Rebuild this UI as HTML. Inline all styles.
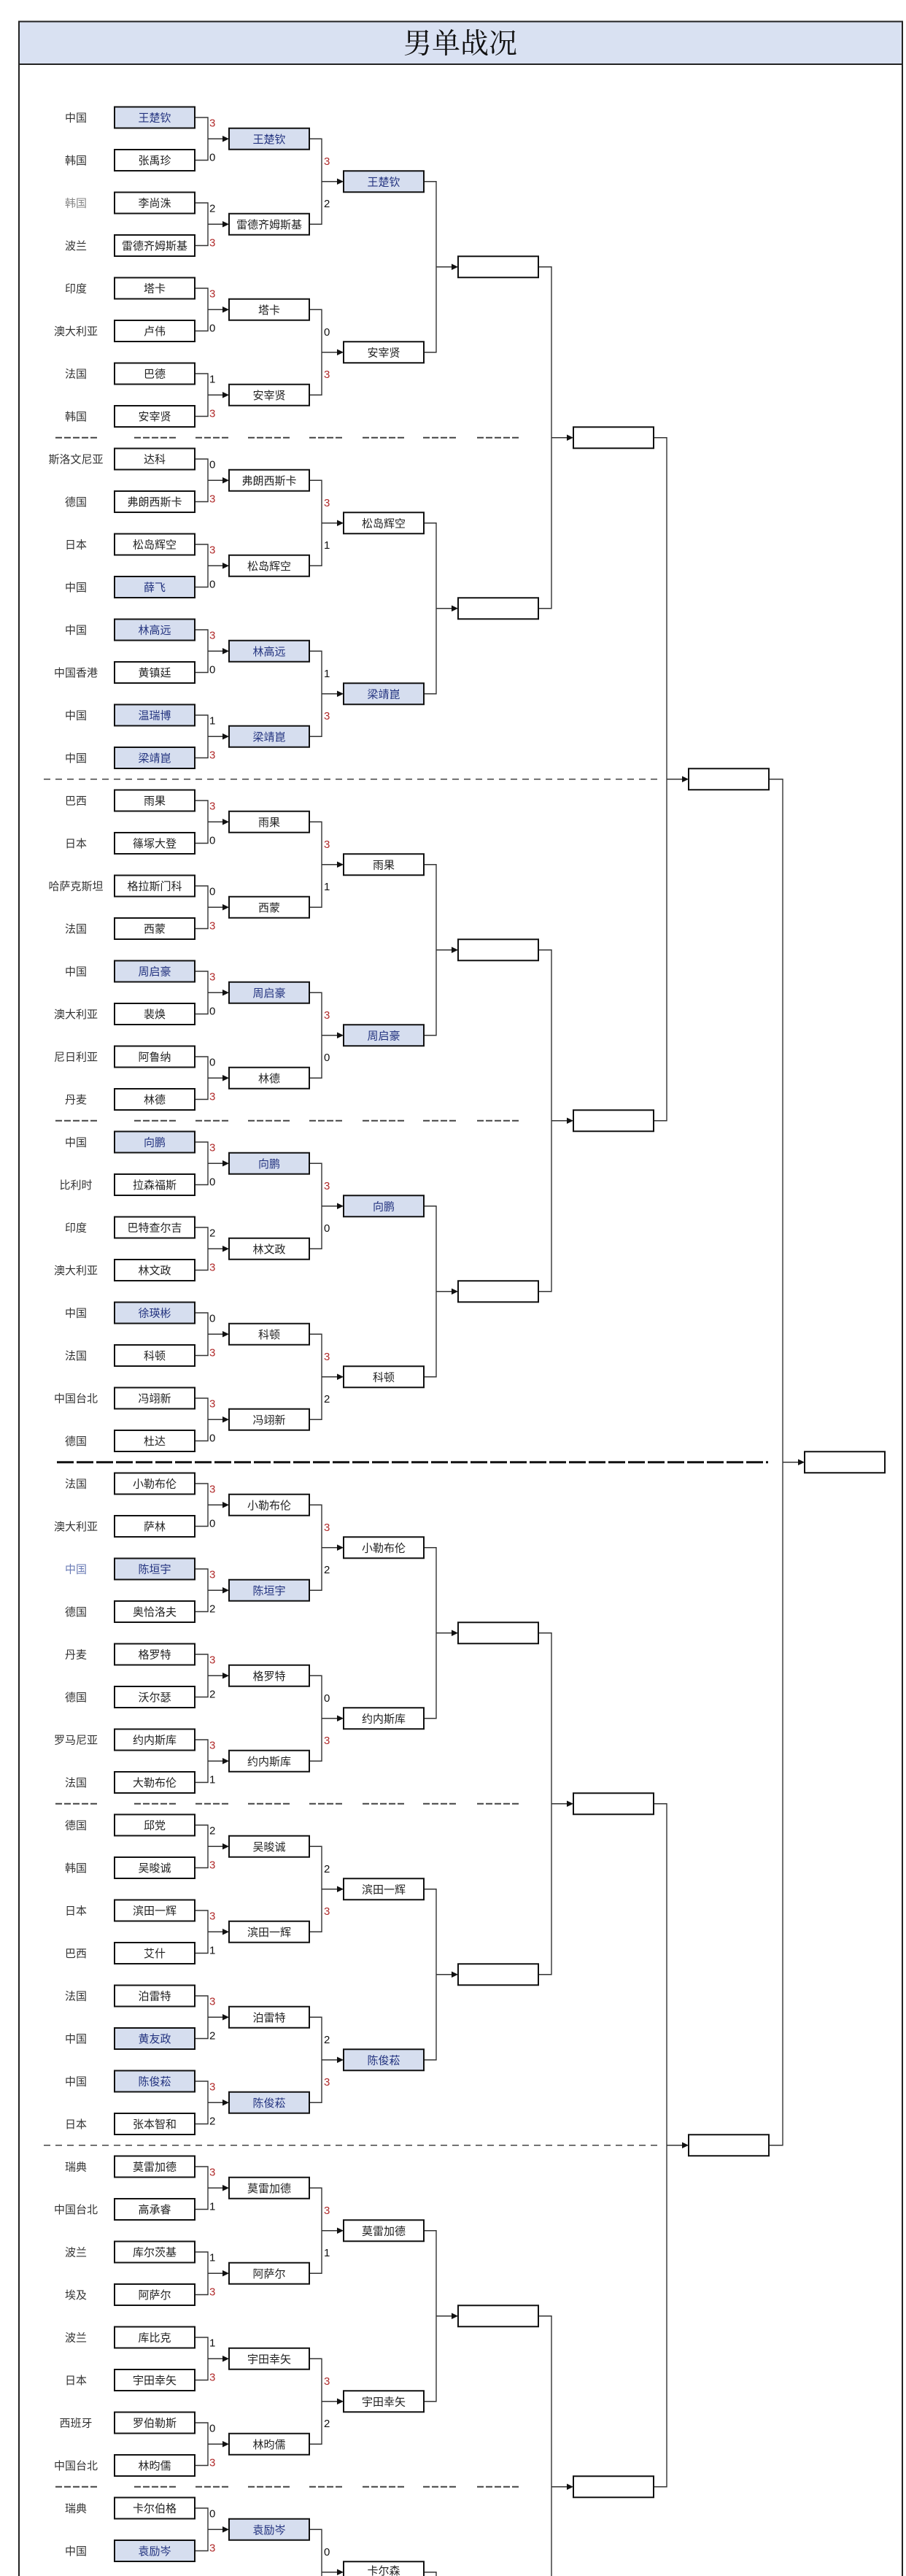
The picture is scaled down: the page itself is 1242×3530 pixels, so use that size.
<!DOCTYPE html>
<html><head><meta charset="utf-8"><style>
html,body{margin:0;padding:0;background:#fff;width:1242px;height:3530px;overflow:hidden;}
svg{display:block;}
.bx{fill:#fff;stroke:#111;stroke-width:2;}
.hb{fill:#d6deef;stroke:#111;stroke-width:2;}
.ln{fill:none;stroke:#333;stroke-width:1.4;}
.ah{fill:#111;}
text{font-family:"Liberation Sans","Noto Sans CJK SC",sans-serif;font-size:15px;}
.n{fill:#222;text-anchor:middle;}
.h{fill:#23337f;text-anchor:middle;}
.c{fill:#333;text-anchor:middle;}
.s{fill:#111;font-size:15px;}
.r{fill:#b02a2a;font-size:15px;}
.sd{stroke:#444;stroke-width:2;stroke-dasharray:9 3;}
.ld{stroke:#444;stroke-width:1.6;stroke-dasharray:9 7;}
.td{stroke:#111;stroke-width:3;stroke-dasharray:23 4;}
</style></head><body>
<svg width="1242" height="3530" viewBox="0 0 1242 3530" xmlns="http://www.w3.org/2000/svg">
<defs>
<rect id="w" width="110" height="29" class="bx"/>
<rect id="hh" width="110" height="29" class="hb"/>
<g id="b1"><path class="ln" d="M267 161H285V219.5H267M285 190.25H306"/><path class="ah" d="M305 186L314 190.25L305 194.5Z"/></g>
<g id="b2"><path class="ln" d="M424 190.25H441V307.25H424M441 248.75H463"/><path class="ah" d="M462 244.5L471 248.75L462 253Z"/></g>
<g id="b3"><path class="ln" d="M581 248.75H598V482.75H581M598 365.75H620"/><path class="ah" d="M619 361.5L628 365.75L619 370Z"/></g>
<g id="b4"><path class="ln" d="M738 365.75H756V833.75H738M756 599.75H778"/><path class="ah" d="M777 595.5L786 599.75L777 604Z"/></g>
<g id="b5"><path class="ln" d="M896 599.75H914V1535.75H896M914 1067.75H936"/><path class="ah" d="M935 1063.5L944 1067.75L935 1072Z"/></g>
</defs>
<rect x="26" y="29.5" width="1211" height="3540" fill="#fff" stroke="#222" stroke-width="2"/>
<rect x="26" y="29.5" width="1211" height="58.5" fill="#d9e1f2" stroke="#222" stroke-width="2"/>
<text x="631" y="73" style="font-family:'Noto Serif CJK SC','Liberation Serif',serif;font-size:39px;fill:#111;text-anchor:middle">男单战况</text>

<g class="sd">
<path d="M76 599.75H133M184 599.75H242M268 599.75H315M340 599.75H398M424 599.75H471M497 599.75H554M580 599.75H628M654 599.75H712"/>
<path d="M76 1535.75H133M184 1535.75H242M268 1535.75H315M340 1535.75H398M424 1535.75H471M497 1535.75H554M580 1535.75H628M654 1535.75H712"/>
<path d="M76 2471.75H133M184 2471.75H242M268 2471.75H315M340 2471.75H398M424 2471.75H471M497 2471.75H554M580 2471.75H628M654 2471.75H712"/>
<path d="M76 3407.75H133M184 3407.75H242M268 3407.75H315M340 3407.75H398M424 3407.75H471M497 3407.75H554M580 3407.75H628M654 3407.75H712"/>
</g>
<path class="ld" d="M60 1067.75H905"/>
<path class="ld" d="M60 2939.75H905"/>
<path class="td" d="M78 2003.75H1053"/>

<use href="#b1" y="0"/><use href="#b1" y="117"/><use href="#b1" y="234"/><use href="#b1" y="351"/><use href="#b1" y="468"/><use href="#b1" y="585"/><use href="#b1" y="702"/><use href="#b1" y="819"/><use href="#b1" y="936"/><use href="#b1" y="1053"/><use href="#b1" y="1170"/><use href="#b1" y="1287"/><use href="#b1" y="1404"/><use href="#b1" y="1521"/><use href="#b1" y="1638"/><use href="#b1" y="1755"/><use href="#b1" y="1872"/><use href="#b1" y="1989"/><use href="#b1" y="2106"/><use href="#b1" y="2223"/><use href="#b1" y="2340"/><use href="#b1" y="2457"/><use href="#b1" y="2574"/><use href="#b1" y="2691"/><use href="#b1" y="2808"/><use href="#b1" y="2925"/><use href="#b1" y="3042"/><use href="#b1" y="3159"/><use href="#b1" y="3276"/><use href="#b1" y="3393"/>
<use href="#b2" y="0"/><use href="#b2" y="234"/><use href="#b2" y="468"/><use href="#b2" y="702"/><use href="#b2" y="936"/><use href="#b2" y="1170"/><use href="#b2" y="1404"/><use href="#b2" y="1638"/><use href="#b2" y="1872"/><use href="#b2" y="2106"/><use href="#b2" y="2340"/><use href="#b2" y="2574"/><use href="#b2" y="2808"/><use href="#b2" y="3042"/><use href="#b2" y="3276"/>
<use href="#b3" y="0"/><use href="#b3" y="468"/><use href="#b3" y="936"/><use href="#b3" y="1404"/><use href="#b3" y="1872"/><use href="#b3" y="2340"/><use href="#b3" y="2808"/><use href="#b3" y="3276"/>
<use href="#b4" y="0"/><use href="#b4" y="936"/><use href="#b4" y="1872"/><use href="#b4" y="2808"/>
<use href="#b5" y="0"/><use href="#b5" y="1872"/>
<path class="ln" d="M1054 1067.75H1073V2939.75H1054M1073 2003.75H1095"/><path class="ah" d="M1094 1999.5L1103 2003.75L1094 2008Z"/>

<use href="#w" x="628" y="351.25"/><use href="#w" x="628" y="819.25"/><use href="#w" x="628" y="1287.25"/><use href="#w" x="628" y="1755.25"/><use href="#w" x="628" y="2223.25"/><use href="#w" x="628" y="2691.25"/><use href="#w" x="628" y="3159.25"/>
<use href="#w" x="786" y="585.25"/><use href="#w" x="786" y="1521.25"/><use href="#w" x="786" y="2457.25"/><use href="#w" x="786" y="3393.25"/>
<use href="#w" x="944" y="1053.25"/><use href="#w" x="944" y="2925.25"/>
<use href="#w" x="1103" y="1989.25"/>

<use href="#hh" x="157" y="146.5"/><use href="#w" x="157" y="205"/><use href="#w" x="157" y="263.5"/><use href="#w" x="157" y="322"/><use href="#w" x="157" y="380.5"/><use href="#w" x="157" y="439"/><use href="#w" x="157" y="497.5"/><use href="#w" x="157" y="556"/>
<use href="#w" x="157" y="614.5"/><use href="#w" x="157" y="673"/><use href="#w" x="157" y="731.5"/><use href="#hh" x="157" y="790"/><use href="#hh" x="157" y="848.5"/><use href="#w" x="157" y="907"/><use href="#hh" x="157" y="965.5"/><use href="#hh" x="157" y="1024"/>
<use href="#w" x="157" y="1082.5"/><use href="#w" x="157" y="1141"/><use href="#w" x="157" y="1199.5"/><use href="#w" x="157" y="1258"/><use href="#hh" x="157" y="1316.5"/><use href="#w" x="157" y="1375"/><use href="#w" x="157" y="1433.5"/><use href="#w" x="157" y="1492"/>
<use href="#hh" x="157" y="1550.5"/><use href="#w" x="157" y="1609"/><use href="#w" x="157" y="1667.5"/><use href="#w" x="157" y="1726"/><use href="#hh" x="157" y="1784.5"/><use href="#w" x="157" y="1843"/><use href="#w" x="157" y="1901.5"/><use href="#w" x="157" y="1960"/>
<use href="#w" x="157" y="2018.5"/><use href="#w" x="157" y="2077"/><use href="#hh" x="157" y="2135.5"/><use href="#w" x="157" y="2194"/><use href="#w" x="157" y="2252.5"/><use href="#w" x="157" y="2311"/><use href="#w" x="157" y="2369.5"/><use href="#w" x="157" y="2428"/>
<use href="#w" x="157" y="2486.5"/><use href="#w" x="157" y="2545"/><use href="#w" x="157" y="2603.5"/><use href="#w" x="157" y="2662"/><use href="#w" x="157" y="2720.5"/><use href="#hh" x="157" y="2779"/><use href="#hh" x="157" y="2837.5"/><use href="#w" x="157" y="2896"/>
<use href="#w" x="157" y="2954.5"/><use href="#w" x="157" y="3013"/><use href="#w" x="157" y="3071.5"/><use href="#w" x="157" y="3130"/><use href="#w" x="157" y="3188.5"/><use href="#w" x="157" y="3247"/><use href="#w" x="157" y="3305.5"/><use href="#w" x="157" y="3364"/>
<use href="#w" x="157" y="3422.5"/><use href="#hh" x="157" y="3481"/>

<use href="#hh" x="314" y="175.75"/><use href="#w" x="314" y="292.75"/><use href="#w" x="314" y="409.75"/><use href="#w" x="314" y="526.75"/>
<use href="#w" x="314" y="643.75"/><use href="#w" x="314" y="760.75"/><use href="#hh" x="314" y="877.75"/><use href="#hh" x="314" y="994.75"/>
<use href="#w" x="314" y="1111.75"/><use href="#w" x="314" y="1228.75"/><use href="#hh" x="314" y="1345.75"/><use href="#w" x="314" y="1462.75"/>
<use href="#hh" x="314" y="1579.75"/><use href="#w" x="314" y="1696.75"/><use href="#w" x="314" y="1813.75"/><use href="#w" x="314" y="1930.75"/>
<use href="#w" x="314" y="2047.75"/><use href="#hh" x="314" y="2164.75"/><use href="#w" x="314" y="2281.75"/><use href="#w" x="314" y="2398.75"/>
<use href="#w" x="314" y="2515.75"/><use href="#w" x="314" y="2632.75"/><use href="#w" x="314" y="2749.75"/><use href="#hh" x="314" y="2866.75"/>
<use href="#w" x="314" y="2983.75"/><use href="#w" x="314" y="3100.75"/><use href="#w" x="314" y="3217.75"/><use href="#w" x="314" y="3334.75"/>
<use href="#hh" x="314" y="3451.75"/>

<use href="#hh" x="471" y="234.25"/><use href="#w" x="471" y="468.25"/><use href="#w" x="471" y="702.25"/><use href="#hh" x="471" y="936.25"/>
<use href="#w" x="471" y="1170.25"/><use href="#hh" x="471" y="1404.25"/><use href="#hh" x="471" y="1638.25"/><use href="#w" x="471" y="1872.25"/>
<use href="#w" x="471" y="2106.25"/><use href="#w" x="471" y="2340.25"/><use href="#w" x="471" y="2574.25"/><use href="#hh" x="471" y="2808.25"/>
<use href="#w" x="471" y="3042.25"/><use href="#w" x="471" y="3276.25"/><use href="#w" x="471" y="3510.25"/>

<g class="c">
<text x="104" y="166.5">中国</text><text x="104" y="225">韩国</text><text x="104" y="283.5" style="fill:#888">韩国</text><text x="104" y="342">波兰</text><text x="104" y="400.5">印度</text><text x="104" y="459">澳大利亚</text><text x="104" y="517.5">法国</text><text x="104" y="576">韩国</text>
<text x="104" y="634.5">斯洛文尼亚</text><text x="104" y="693">德国</text><text x="104" y="751.5">日本</text><text x="104" y="810">中国</text><text x="104" y="868.5">中国</text><text x="104" y="927">中国香港</text><text x="104" y="985.5">中国</text><text x="104" y="1044">中国</text>
<text x="104" y="1102.5">巴西</text><text x="104" y="1161">日本</text><text x="104" y="1219.5">哈萨克斯坦</text><text x="104" y="1278">法国</text><text x="104" y="1336.5">中国</text><text x="104" y="1395">澳大利亚</text><text x="104" y="1453.5">尼日利亚</text><text x="104" y="1512">丹麦</text>
<text x="104" y="1570.5">中国</text><text x="104" y="1629">比利时</text><text x="104" y="1687.5">印度</text><text x="104" y="1746">澳大利亚</text><text x="104" y="1804.5">中国</text><text x="104" y="1863">法国</text><text x="104" y="1921.5">中国台北</text><text x="104" y="1980">德国</text>
<text x="104" y="2038.5">法国</text><text x="104" y="2097">澳大利亚</text><text x="104" y="2155.5" style="fill:#6a7bb5">中国</text><text x="104" y="2214">德国</text><text x="104" y="2272.5">丹麦</text><text x="104" y="2331">德国</text><text x="104" y="2389.5">罗马尼亚</text><text x="104" y="2448">法国</text>
<text x="104" y="2506.5">德国</text><text x="104" y="2565">韩国</text><text x="104" y="2623.5">日本</text><text x="104" y="2682">巴西</text><text x="104" y="2740.5">法国</text><text x="104" y="2799">中国</text><text x="104" y="2857.5">中国</text><text x="104" y="2916">日本</text>
<text x="104" y="2974.5">瑞典</text><text x="104" y="3033">中国台北</text><text x="104" y="3091.5">波兰</text><text x="104" y="3150">埃及</text><text x="104" y="3208.5">波兰</text><text x="104" y="3267">日本</text><text x="104" y="3325.5">西班牙</text><text x="104" y="3384">中国台北</text>
<text x="104" y="3442.5">瑞典</text><text x="104" y="3501">中国</text>
</g>

<g class="n">
<text x="212" y="166.5" class="h">王楚钦</text><text x="212" y="225">张禹珍</text><text x="212" y="283.5">李尚洙</text><text x="212" y="342">雷德齐姆斯基</text><text x="212" y="400.5">塔卡</text><text x="212" y="459">卢伟</text><text x="212" y="517.5">巴德</text><text x="212" y="576">安宰贤</text>
<text x="212" y="634.5">达科</text><text x="212" y="693">弗朗西斯卡</text><text x="212" y="751.5">松岛辉空</text><text x="212" y="810" class="h">薛飞</text><text x="212" y="868.5" class="h">林高远</text><text x="212" y="927">黄镇廷</text><text x="212" y="985.5" class="h">温瑞博</text><text x="212" y="1044" class="h">梁靖崑</text>
<text x="212" y="1102.5">雨果</text><text x="212" y="1161">篠塚大登</text><text x="212" y="1219.5">格拉斯门科</text><text x="212" y="1278">西蒙</text><text x="212" y="1336.5" class="h">周启豪</text><text x="212" y="1395">裴焕</text><text x="212" y="1453.5">阿鲁纳</text><text x="212" y="1512">林德</text>
<text x="212" y="1570.5" class="h">向鹏</text><text x="212" y="1629">拉森福斯</text><text x="212" y="1687.5">巴特查尔吉</text><text x="212" y="1746">林文政</text><text x="212" y="1804.5" class="h">徐瑛彬</text><text x="212" y="1863">科顿</text><text x="212" y="1921.5">冯翊新</text><text x="212" y="1980">杜达</text>
<text x="212" y="2038.5">小勒布伦</text><text x="212" y="2097">萨林</text><text x="212" y="2155.5" class="h">陈垣宇</text><text x="212" y="2214">奥恰洛夫</text><text x="212" y="2272.5">格罗特</text><text x="212" y="2331">沃尔瑟</text><text x="212" y="2389.5">约内斯库</text><text x="212" y="2448">大勒布伦</text>
<text x="212" y="2506.5">邱党</text><text x="212" y="2565">吴晙诚</text><text x="212" y="2623.5">滨田一辉</text><text x="212" y="2682">艾什</text><text x="212" y="2740.5">泊雷特</text><text x="212" y="2799" class="h">黄友政</text><text x="212" y="2857.5" class="h">陈俊菘</text><text x="212" y="2916">张本智和</text>
<text x="212" y="2974.5">莫雷加德</text><text x="212" y="3033">高承睿</text><text x="212" y="3091.5">库尔茨基</text><text x="212" y="3150">阿萨尔</text><text x="212" y="3208.5">库比克</text><text x="212" y="3267">宇田幸矢</text><text x="212" y="3325.5">罗伯勒斯</text><text x="212" y="3384">林昀儒</text>
<text x="212" y="3442.5">卡尔伯格</text><text x="212" y="3501" class="h">袁励岑</text>
</g>

<g class="n">
<text x="369" y="195.75" class="h">王楚钦</text><text x="369" y="312.75">雷德齐姆斯基</text><text x="369" y="429.75">塔卡</text><text x="369" y="546.75">安宰贤</text>
<text x="369" y="663.75">弗朗西斯卡</text><text x="369" y="780.75">松岛辉空</text><text x="369" y="897.75" class="h">林高远</text><text x="369" y="1014.75" class="h">梁靖崑</text>
<text x="369" y="1131.75">雨果</text><text x="369" y="1248.75">西蒙</text><text x="369" y="1365.75" class="h">周启豪</text><text x="369" y="1482.75">林德</text>
<text x="369" y="1599.75" class="h">向鹏</text><text x="369" y="1716.75">林文政</text><text x="369" y="1833.75">科顿</text><text x="369" y="1950.75">冯翊新</text>
<text x="369" y="2067.75">小勒布伦</text><text x="369" y="2184.75" class="h">陈垣宇</text><text x="369" y="2301.75">格罗特</text><text x="369" y="2418.75">约内斯库</text>
<text x="369" y="2535.75">吴晙诚</text><text x="369" y="2652.75">滨田一辉</text><text x="369" y="2769.75">泊雷特</text><text x="369" y="2886.75" class="h">陈俊菘</text>
<text x="369" y="3003.75">莫雷加德</text><text x="369" y="3120.75">阿萨尔</text><text x="369" y="3237.75">宇田幸矢</text><text x="369" y="3354.75">林昀儒</text>
<text x="369" y="3471.75" class="h">袁励岑</text>
</g>

<g class="n">
<text x="526" y="254.25" class="h">王楚钦</text><text x="526" y="488.25">安宰贤</text><text x="526" y="722.25">松岛辉空</text><text x="526" y="956.25" class="h">梁靖崑</text>
<text x="526" y="1190.25">雨果</text><text x="526" y="1424.25" class="h">周启豪</text><text x="526" y="1658.25" class="h">向鹏</text><text x="526" y="1892.25">科顿</text>
<text x="526" y="2126.25">小勒布伦</text><text x="526" y="2360.25">约内斯库</text><text x="526" y="2594.25">滨田一辉</text><text x="526" y="2828.25" class="h">陈俊菘</text>
<text x="526" y="3062.25">莫雷加德</text><text x="526" y="3296.25">宇田幸矢</text><text x="526" y="3528">卡尔森</text>
</g>

<g>
<text x="287" y="173.25" class="r">3</text><text x="287" y="220.25" class="s">0</text>
<text x="287" y="290.25" class="s">2</text><text x="287" y="337.25" class="r">3</text>
<text x="287" y="407.25" class="r">3</text><text x="287" y="454.25" class="s">0</text>
<text x="287" y="524.25" class="s">1</text><text x="287" y="571.25" class="r">3</text>
<text x="287" y="641.25" class="s">0</text><text x="287" y="688.25" class="r">3</text>
<text x="287" y="758.25" class="r">3</text><text x="287" y="805.25" class="s">0</text>
<text x="287" y="875.25" class="r">3</text><text x="287" y="922.25" class="s">0</text>
<text x="287" y="992.25" class="s">1</text><text x="287" y="1039.25" class="r">3</text>
<text x="287" y="1109.25" class="r">3</text><text x="287" y="1156.25" class="s">0</text>
<text x="287" y="1226.25" class="s">0</text><text x="287" y="1273.25" class="r">3</text>
<text x="287" y="1343.25" class="r">3</text><text x="287" y="1390.25" class="s">0</text>
<text x="287" y="1460.25" class="s">0</text><text x="287" y="1507.25" class="r">3</text>
<text x="287" y="1577.25" class="r">3</text><text x="287" y="1624.25" class="s">0</text>
<text x="287" y="1694.25" class="s">2</text><text x="287" y="1741.25" class="r">3</text>
<text x="287" y="1811.25" class="s">0</text><text x="287" y="1858.25" class="r">3</text>
<text x="287" y="1928.25" class="r">3</text><text x="287" y="1975.25" class="s">0</text>
<text x="287" y="2045.25" class="r">3</text><text x="287" y="2092.25" class="s">0</text>
<text x="287" y="2162.25" class="r">3</text><text x="287" y="2209.25" class="s">2</text>
<text x="287" y="2279.25" class="r">3</text><text x="287" y="2326.25" class="s">2</text>
<text x="287" y="2396.25" class="r">3</text><text x="287" y="2443.25" class="s">1</text>
<text x="287" y="2513.25" class="s">2</text><text x="287" y="2560.25" class="r">3</text>
<text x="287" y="2630.25" class="r">3</text><text x="287" y="2677.25" class="s">1</text>
<text x="287" y="2747.25" class="r">3</text><text x="287" y="2794.25" class="s">2</text>
<text x="287" y="2864.25" class="r">3</text><text x="287" y="2911.25" class="s">2</text>
<text x="287" y="2981.25" class="r">3</text><text x="287" y="3028.25" class="s">1</text>
<text x="287" y="3098.25" class="s">1</text><text x="287" y="3145.25" class="r">3</text>
<text x="287" y="3215.25" class="s">1</text><text x="287" y="3262.25" class="r">3</text>
<text x="287" y="3332.25" class="s">0</text><text x="287" y="3379.25" class="r">3</text>
<text x="287" y="3449.25" class="s">0</text><text x="287" y="3496.25" class="r">3</text>
</g>

<g>
<text x="444" y="225.75" class="r">3</text><text x="444" y="283.75" class="s">2</text>
<text x="444" y="459.75" class="s">0</text><text x="444" y="517.75" class="r">3</text>
<text x="444" y="693.75" class="r">3</text><text x="444" y="751.75" class="s">1</text>
<text x="444" y="927.75" class="s">1</text><text x="444" y="985.75" class="r">3</text>
<text x="444" y="1161.75" class="r">3</text><text x="444" y="1219.75" class="s">1</text>
<text x="444" y="1395.75" class="r">3</text><text x="444" y="1453.75" class="s">0</text>
<text x="444" y="1629.75" class="r">3</text><text x="444" y="1687.75" class="s">0</text>
<text x="444" y="1863.75" class="r">3</text><text x="444" y="1921.75" class="s">2</text>
<text x="444" y="2097.75" class="r">3</text><text x="444" y="2155.75" class="s">2</text>
<text x="444" y="2331.75" class="s">0</text><text x="444" y="2389.75" class="r">3</text>
<text x="444" y="2565.75" class="s">2</text><text x="444" y="2623.75" class="r">3</text>
<text x="444" y="2799.75" class="s">2</text><text x="444" y="2857.75" class="r">3</text>
<text x="444" y="3033.75" class="r">3</text><text x="444" y="3091.75" class="s">1</text>
<text x="444" y="3267.75" class="r">3</text><text x="444" y="3325.75" class="s">2</text>
<text x="444" y="3501.75" class="s">0</text>
</g>
</svg>
</body></html>
